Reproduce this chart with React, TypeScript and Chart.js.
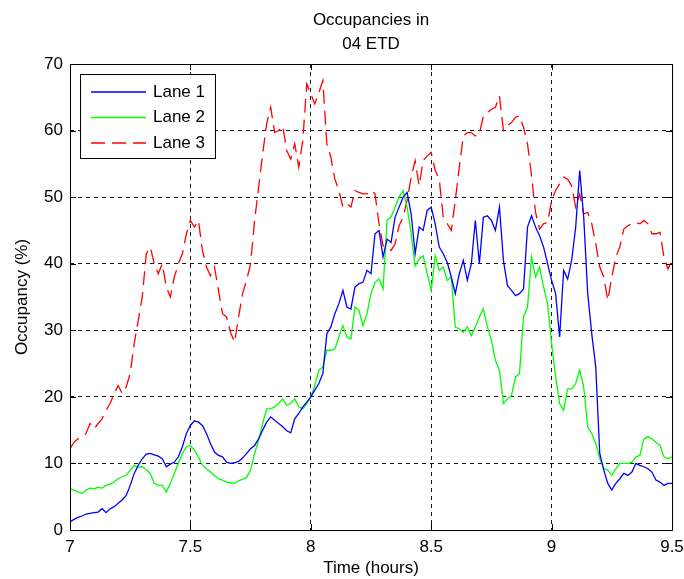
import React, { useEffect, useRef } from 'react';
import { Chart, registerables } from 'chart.js';

Chart.register(...registerables);

// ---- data (one sample per minute, starting at 7:00) ----
const START_HOUR = 7;
const SAMPLES_PER_HOUR = 60;

const seriesNames = ['Lane 1', 'Lane 2', 'Lane 3'];
const seriesColors = ['#0000ff', '#00ff00', '#ff0000'];

const lane1 = [
  1.2, 1.6, 1.9, 2.1, 2.4, 2.5, 2.6, 2.7, 3.2, 2.6,
  3.2, 3.5, 4.0, 4.5, 5.2, 6.7, 8.5, 9.7, 10.7, 11.4,
  11.5, 11.3, 11.1, 10.7, 9.5, 9.9, 10.2, 11, 12.5, 14.5,
  15.7, 16.4, 16.2, 15.7, 14.5, 13, 11.7, 11.2, 11, 10.2,
  10, 10.1, 10.3, 10.8, 11.5, 12.2, 12.7, 13.7, 15, 16.2,
  17, 16.5, 16, 15.5, 14.9, 14.6, 16.7, 17.5, 18.5, 19.2,
  20, 21, 22, 23.5, 29.5, 30.5, 32.5, 34, 36, 33.5,
  33.2, 36.5, 37, 37.2, 39, 38.5, 44.5, 45, 41, 43.7,
  43.2, 47, 48.5, 50, 50.7, 47.5, 41.5, 45.5, 45, 48,
  48.5, 46, 42.5, 41.5, 40.2, 38, 35.5, 38.5, 40.5, 37.5,
  40, 46.5, 40, 47, 47.2, 46.5, 45, 48.5, 40.5, 36.7,
  36, 35.2, 35.5, 36.2, 45.5, 47.2, 45.5, 44.2, 42.5, 40,
  37.5, 35.5, 29, 39, 37.7, 40.5, 45.5, 54, 47, 35.5,
  29.5, 24.5, 11.5, 9, 7, 6, 7, 7.7, 8.5, 8.2,
  8.7, 10, 9.7, 9.5, 9.2, 8.7, 7.5, 7.2, 6.7, 7, 7,
];

const lane2 = [
  6.2, 6, 5.7, 5.5, 6, 6.3, 6.2, 6.4, 6.3, 6.7,
  6.9, 7.2, 7.7, 8, 8.2, 9, 9.7, 9.4, 9.5, 9.1,
  8.5, 7, 6.7, 6.7, 5.7, 7, 8.5, 10, 11.5, 12.5,
  12.7, 12, 11, 9.7, 9.2, 8.7, 8.2, 7.7, 7.5, 7.2,
  7.1, 7, 7.4, 7.6, 7.9, 9, 11.5, 13.5, 16, 18.2,
  18.2, 18.5, 19, 19.7, 18.7, 19, 19.7, 18.5, 18.2, 19,
  20, 21.7, 24, 24.5, 27, 27, 27.2, 29, 30.7, 29,
  28.7, 33.5, 33, 30.7, 32.5, 35.5, 37.2, 37.7, 36.2, 46.5,
  47, 48.5, 50, 51, 48.5, 44.5, 39.7, 40.7, 41.2, 38.5,
  36, 41.2, 39, 39.5, 37.5, 38, 30.5, 30.2, 29.7, 30.5,
  29.2, 30.5, 32, 33.2, 30.5, 28.5, 25.5, 24, 19, 19.7,
  20.2, 23, 23.5, 32, 33.5, 41, 38, 39.5, 36.5, 34,
  28, 23, 19, 18, 21.2, 21.2, 22, 24, 21.5, 15.5,
  14.5, 13, 10.7, 9.2, 9, 8.2, 9.2, 10, 10, 10,
  10.2, 11, 11.2, 13.7, 14, 13.7, 13.2, 12.7, 11, 10.7, 11,
];

const lane3 = [
  12.2, 13.2, 13.7, 14, 14.5, 16, 15.2, 16, 16.7, 18,
  19, 20.5, 21.7, 20.5, 21.5, 23.5, 28, 31.5, 35, 41.5,
  42.5, 40, 38.5, 40, 36.5, 35, 38, 40, 41.5, 44.5,
  46.5, 45.5, 46.5, 42, 39.5, 38.2, 39.5, 36, 32.5, 32,
  29.7, 28.2, 32, 35.5, 37.5, 40, 46.5, 51.5, 56.5, 61,
  63.5, 59.7, 60, 60.7, 57, 55.7, 58, 54.5, 58.5, 67,
  65.5, 64, 65.7, 67.5, 58, 56, 52.7, 51, 48.5, 49,
  48.5, 51, 50.7, 50.5, 50.5, 51, 50.5, 46, 42.7, 42.2,
  42, 43, 45.7, 47, 49.5, 53, 55.5, 51.7, 55.5, 56.2,
  56.7, 54, 52.7, 47, 46, 45, 49.5, 54.5, 59.2, 59.7,
  59.7, 59.2, 59.5, 62.2, 62.7, 63.2, 63.5, 65.2, 60, 60.7,
  61.2, 62, 62.2, 60.5, 58, 53.2, 47.7, 45.2, 46, 46.2,
  49.5, 51, 52, 53, 52.7, 51.7, 48.5, 50.5, 47.5, 47.7,
  46, 43, 39.5, 38, 34.5, 38, 41, 42.5, 45.2, 45.7,
  46, 46.2, 46, 46.5, 46, 44.5, 44.5, 44.7, 41, 39.2, 40.5,
];

const xTickValues = [7, 7.5, 8, 8.5, 9, 9.5];
const xTickLabels = ['7', '7.5', '8', '8.5', '9', '9.5'];
const yTickValues = [0, 10, 20, 30, 40, 50, 60, 70];
const yTickLabels = ['0', '10', '20', '30', '40', '50', '60', '70'];

const titleLines = ['Occupancies in', '04 ETD'];
const xAxisTitle = 'Time (hours)';
const yAxisTitle = 'Occupancy (%)';

const FONT_FAMILY = '"Liberation Sans", Arial, Helvetica, sans-serif';
const FONT_SIZE = 17;

const toPoints = (values: number[]) =>
  values.map((v, i) => ({ x: START_HOUR + i / SAMPLES_PER_HOUR, y: v }));

const decorPlugin = {
  id: 'matlabDecor',
  afterDraw(chart: any) {
    const { ctx, chartArea: a, scales } = chart;
    const px = (v: number) => Math.round(v) + 0.5;
    ctx.save();
    ctx.setLineDash([]);
    ctx.strokeStyle = '#000';
    ctx.lineWidth = 1;
    // frame
    ctx.strokeRect(px(a.left), px(a.top), Math.round(a.right) - Math.round(a.left), Math.round(a.bottom) - Math.round(a.top));
    // inward ticks
    const tl = 6;
    ctx.beginPath();
    xTickValues.forEach((v) => {
      const x = px(scales.x.getPixelForValue(v));
      ctx.moveTo(x, a.bottom);
      ctx.lineTo(x, a.bottom - tl);
      ctx.moveTo(x, a.top);
      ctx.lineTo(x, a.top + tl);
    });
    yTickValues.forEach((v) => {
      const y = px(scales.y.getPixelForValue(v));
      ctx.moveTo(a.left, y);
      ctx.lineTo(a.left + tl, y);
      ctx.moveTo(a.right, y);
      ctx.lineTo(a.right - tl, y);
    });
    ctx.stroke();

    // title
    ctx.fillStyle = '#000';
    ctx.font = `${FONT_SIZE}px ${FONT_FAMILY}`;
    ctx.textAlign = 'center';
    ctx.textBaseline = 'middle';
    const cx = (a.left + a.right) / 2;
    titleLines.forEach((t, i) => ctx.fillText(t, cx, 20 + i * 24));

    // legend box
    const lx = a.left + 10;
    const ly = a.top + 10;
    const lw = 135;
    const lh = 84;
    ctx.fillStyle = '#fff';
    ctx.fillRect(lx, ly, lw, lh);
    ctx.strokeStyle = '#000';
    ctx.strokeRect(px(lx), px(ly), lw, lh);
    chart.data.datasets.forEach((ds: any, i: number) => {
      const y = ly + 18 + i * 25.5;
      ctx.save();
      ctx.strokeStyle = ds.borderColor;
      ctx.lineWidth = 1.3;
      ctx.setLineDash(ds.borderDash || []);
      ctx.beginPath();
      ctx.moveTo(lx + 11, y);
      ctx.lineTo(lx + 66, y);
      ctx.stroke();
      ctx.restore();
      ctx.fillStyle = '#000';
      ctx.textAlign = 'left';
      ctx.textBaseline = 'middle';
      ctx.fillText(ds.label, lx + 73, y);
    });
    ctx.restore();
  },
};

export default function App() {
  const canvasRef = useRef<HTMLCanvasElement | null>(null);

  useEffect(() => {
    if (!canvasRef.current) return;
    const lanes = [lane1, lane2, lane3];
    const chart = new Chart(canvasRef.current, {
      type: 'line',
      data: {
        datasets: lanes.map((vals, i) => ({
          label: seriesNames[i],
          data: toPoints(vals),
          borderColor: seriesColors[i],
          backgroundColor: seriesColors[i],
          borderWidth: 1.3,
          borderDash: i === 2 ? [14, 7] : [],
          pointRadius: 0,
          tension: 0,
          fill: false,
        })),
      },
      options: {
        animation: false,
        responsive: false,
        devicePixelRatio: 1,
        layout: { padding: { top: 64, right: 12, left: 0, bottom: 0 } },
        plugins: {
          legend: { display: false },
          title: { display: false },
          tooltip: { enabled: false },
        },
        scales: {
          x: {
            type: 'linear',
            min: 7,
            max: 9.5,
            afterBuildTicks: (scale: any) => {
              scale.ticks = xTickValues.map((v) => ({ value: v }));
            },
            afterFit: (scale: any) => {
              scale.height = 49;
              scale.paddingLeft = 0;
              scale.paddingRight = 0;
            },
            ticks: {
              autoSkip: false,
              maxRotation: 0,
              padding: 7,
              color: '#000',
              font: { family: FONT_FAMILY, size: FONT_SIZE },
              callback: (v: any) => {
                const idx = xTickValues.indexOf(Number(v));
                return idx >= 0 ? xTickLabels[idx] : '';
              },
            },
            grid: {
              drawTicks: false,
              color: '#1a1a1a',
              lineWidth: 1,
            },
            border: { display: false, dash: [4, 4] },
            title: {
              display: true,
              text: xAxisTitle,
              color: '#000',
              font: { family: FONT_FAMILY, size: FONT_SIZE },
              padding: { top: 0, bottom: 0 },
            },
          },
          y: {
            type: 'linear',
            min: 0,
            max: 70,
            afterBuildTicks: (scale: any) => {
              scale.ticks = yTickValues.map((v) => ({ value: v }));
            },
            afterFit: (scale: any) => {
              scale.width = 70;
              scale.paddingTop = 0;
              scale.paddingBottom = 0;
            },
            ticks: {
              autoSkip: false,
              padding: 7,
              color: '#000',
              font: { family: FONT_FAMILY, size: FONT_SIZE },
              callback: (v: any) => {
                const idx = yTickValues.indexOf(Number(v));
                return idx >= 0 ? yTickLabels[idx] : '';
              },
            },
            grid: {
              drawTicks: false,
              color: '#1a1a1a',
              lineWidth: 1,
            },
            border: { display: false, dash: [4, 4] },
            title: {
              display: true,
              text: yAxisTitle,
              color: '#000',
              font: { family: FONT_FAMILY, size: FONT_SIZE },
              padding: { top: 12, bottom: 0 },
            },
          },
        },
      },
      plugins: [decorPlugin],
    } as any);
    return () => chart.destroy();
  }, []);

  return (
    <div style={{ position: 'absolute', left: 0, top: 0, width: 684, height: 579, background: '#fff' }}>
      <canvas ref={canvasRef} width={684} height={579} style={{ display: 'block', width: 684, height: 579 }} />
    </div>
  );
}
